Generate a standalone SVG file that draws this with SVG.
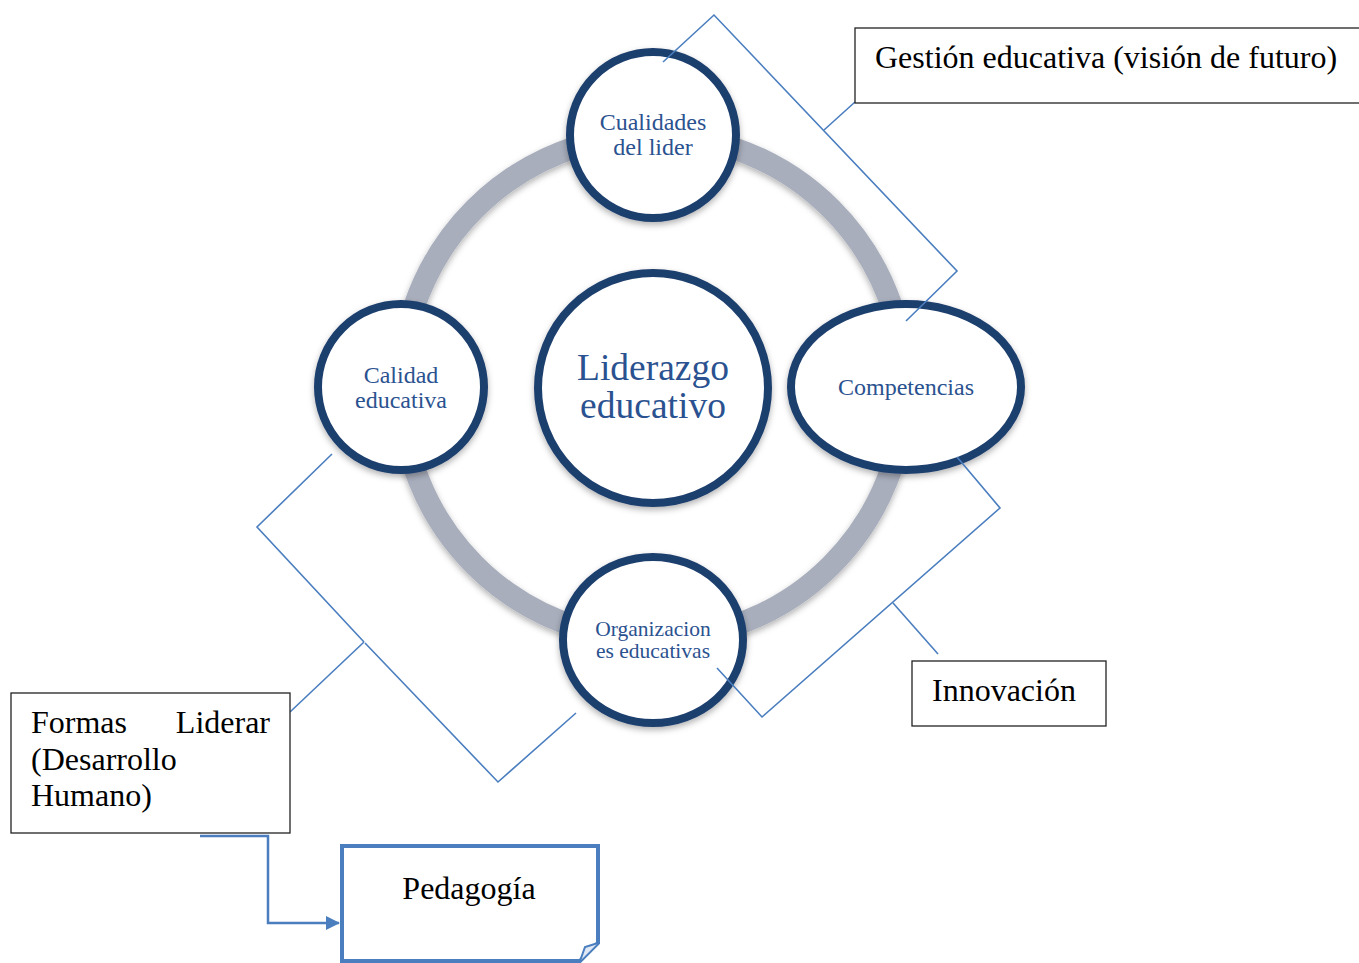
<svg xmlns="http://www.w3.org/2000/svg" width="1359" height="963" viewBox="0 0 1359 963">
<defs>
<filter id="sh" x="-20%" y="-20%" width="140%" height="150%">
<feDropShadow dx="0" dy="3" stdDeviation="3" flood-color="#000" flood-opacity="0.3"/>
</filter>
<marker id="arr" markerWidth="14" markerHeight="14" refX="13" refY="7" orient="auto" markerUnits="userSpaceOnUse">
<path d="M0,0 L14,7 L0,14 z" fill="#4a7ebf"/>
</marker>
<style>
.node{fill:#fff;stroke:#1f3f6e;stroke-width:8;filter:url(#sh)}
.nt{font-family:"Liberation Serif",serif;fill:#2b5290;text-anchor:middle}
.br{fill:none;stroke:#4a7ebf;stroke-width:1.6}
.box{fill:#fff;stroke:#222;stroke-width:1.3}
.bt{font-family:"Liberation Serif",serif;font-size:32px;fill:#000}
</style>
</defs>
<rect width="1359" height="963" fill="#fff"/>
<circle cx="653" cy="387" r="252" fill="none" stroke="#a8aebc" stroke-width="22" filter="url(#sh)"/>
<g id="center">
<circle class="node" cx="653" cy="388" r="115"/>
<text class="nt" x="653" y="380" font-size="37.5">Liderazgo</text>
<text class="nt" x="653" y="418" font-size="37.5">educativo</text>
</g>
<g id="cualidades">
<circle class="node" cx="653" cy="135" r="83"/>
<text class="nt" x="653" y="130" font-size="24">Cualidades</text>
<text class="nt" x="653" y="155" font-size="24">del lider</text>
</g>
<g id="calidad">
<circle class="node" cx="401" cy="387" r="83"/>
<text class="nt" x="401" y="383" font-size="24">Calidad</text>
<text class="nt" x="401" y="408" font-size="24">educativa</text>
</g>
<g id="competencias">
<ellipse class="node" cx="906" cy="387" rx="115" ry="83"/>
<text class="nt" x="906" y="395" font-size="24">Competencias</text>
</g>
<g id="organizaciones">
<ellipse class="node" cx="653" cy="640" rx="90" ry="83"/>
<text class="nt" x="653" y="636" font-size="21.5">Organizacion</text>
<text class="nt" x="653" y="658" font-size="21.5">es educativas</text>
</g>
<g id="connectors">
<polyline class="br" points="663,62 714,15 957,271 906,321"/>
<line class="br" x1="824" y1="130" x2="855" y2="102"/>
<polyline class="br" points="332,454 257,527 364,642"/>
<polyline class="br" points="365,643 498,782 576,713"/>
<line class="br" x1="364" y1="642" x2="290" y2="712" stroke-width="2"/>
<polyline class="br" points="957,457 1000,508 762,717 717,668"/>
<line class="br" x1="893" y1="603" x2="938" y2="654" stroke-width="2"/>
<polyline points="200,836 268,836 268,923 339,923" fill="none" stroke="#4a7ebf" stroke-width="2.5" marker-end="url(#arr)"/>
</g>
<g id="gestion">
<rect class="box" x="855" y="28" width="510" height="75"/>
<text class="bt" x="875" y="68">Gestión educativa (visión de futuro)</text>
</g>
<g id="innovacion">
<rect class="box" x="912" y="661" width="194" height="65"/>
<text class="bt" x="932" y="701">Innovación</text>
</g>
<g id="formas">
<rect class="box" x="11" y="693" width="279" height="140"/>
<text class="bt" x="31" y="733">Formas</text>
<text class="bt" x="270" y="733" text-anchor="end">Liderar</text>
<text class="bt" x="31" y="770">(Desarrollo</text>
<text class="bt" x="31" y="806">Humano)</text>
</g>
<g id="pedagogia">
<path d="M342,846 L598,846 L598,943 L580,961 L342,961 Z" fill="#fff" stroke="#4a7ebf" stroke-width="4"/>
<path d="M598,943 L585,947 L580,961" fill="#dfe8f4" stroke="#4a7ebf" stroke-width="2"/>
<text class="bt" x="469" y="899" text-anchor="middle">Pedagogía</text>
</g>
</svg>
